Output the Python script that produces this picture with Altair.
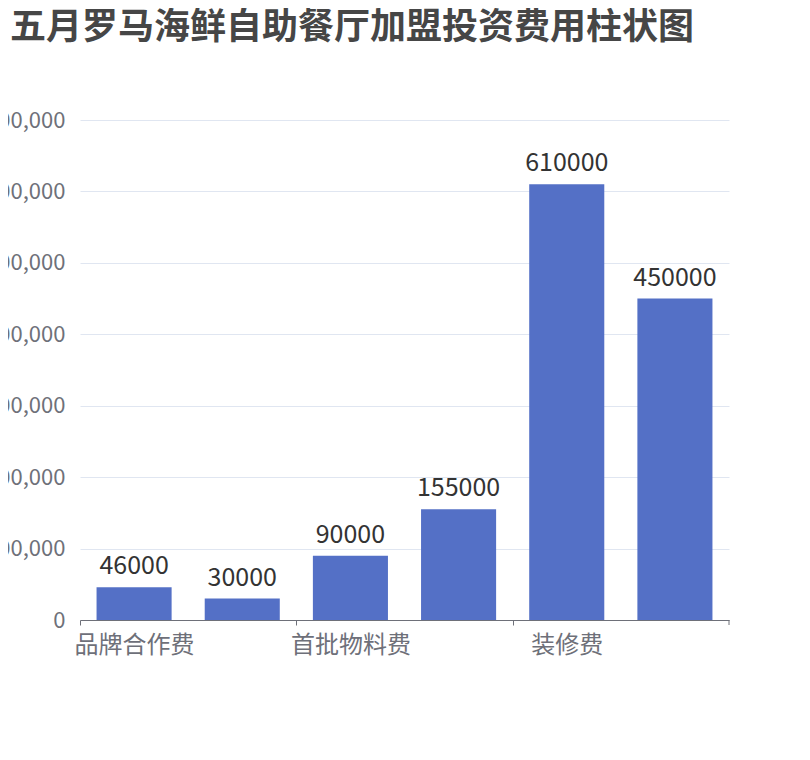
import altair as alt
import pandas as pd

categories = ["品牌合作费", "保证金", "首批物料费", "设备费", "装修费", "流动资金"]
values = [46000, 30000, 90000, 155000, 610000, 450000]
shown_labels = ["品牌合作费", "首批物料费", "装修费"]
y_ticks = [0, 100000, 200000, 300000, 400000, 500000, 600000, 700000]
title_text = "五月罗马海鲜自助餐厅加盟投资费用柱状图"

df = pd.DataFrame({"cat": categories, "val": values})
last_df = pd.DataFrame({"cat": [categories[-1]]})

FONT = "Noto Sans CJK SC"
W, H = 649, 500
P_IN, P_OUT = 0.306, 0.153
STEP = W / (len(categories) - P_IN + 2 * P_OUT)
HALF_GAP = STEP * P_IN / 2

xscale = alt.Scale(domain=categories, paddingInner=P_IN, paddingOuter=P_OUT)
yscale = alt.Scale(domain=[0, 700000], nice=False, zero=True)

xaxis = alt.Axis(
    title=None, values=shown_labels, bandPosition=0, tickOffset=-HALF_GAP,
    labelOffset=HALF_GAP,
    labelAngle=0, labelAlign="center", labelFontSize=24, labelColor="#6E7079",
    labelFont=FONT, labelPadding=8, tickSize=5, tickColor="#6E7079",
    domainColor="#6E7079", domainWidth=1, grid=False,
)
yaxis = alt.Axis(
    title=None, values=y_ticks, labelExpr="format(datum.value, ',')",
    labelFontSize=22, labelColor="#6E7079",
    labelFont=FONT, labelPadding=15, ticks=False, domain=False,
    grid=True, gridColor="#E0E6F1", gridWidth=1,
)

base = alt.Chart(df)

bars = base.mark_bar(color="#5470C6").encode(
    x=alt.X("cat:N", scale=xscale, sort=categories, axis=xaxis),
    y=alt.Y("val:Q", scale=yscale, axis=yaxis),
)

labels = base.mark_text(
    baseline="alphabetic", dy=-13, fontSize=25, font=FONT, color="#333333"
).encode(
    x=alt.X("cat:N", scale=xscale, sort=categories),
    y=alt.Y("val:Q", scale=yscale),
    text=alt.Text("val:Q", format="d"),
)

end_tick = alt.Chart(last_df).mark_rule(
    color="#6E7079", strokeWidth=1, xOffset=HALF_GAP
).encode(
    x=alt.X("cat:N", scale=xscale, sort=categories, bandPosition=1),
    y=alt.value(H),
    y2=alt.value(H + 5),
)

chart = alt.layer(bars, labels, end_tick).properties(
    width=W,
    height=H,
    autosize=alt.AutoSizeParams(type="none"),
    padding={"left": 72, "top": 112, "right": 40, "bottom": 100},
    title=alt.TitleParams(
        text=title_text, fontSize=36, fontWeight="bold", color="#464646",
        font=FONT, anchor="start", frame="group", dx=-70, offset=26,
        baseline="bottom",
    ),
).configure_view(stroke=None)

chart.save("out.html", embed_options={"renderer": "svg", "actions": False})
